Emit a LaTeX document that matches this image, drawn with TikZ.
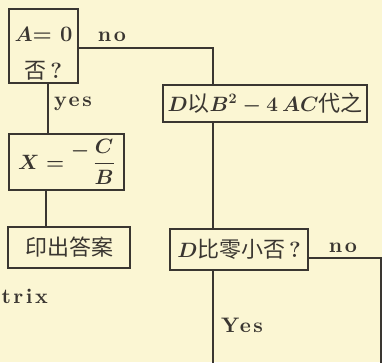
\documentclass[tikz,border=0pt]{standalone}
\usepackage{fontspec}
\usepackage{amsmath}
\newfontfamily\cjk{Noto Sans CJK SC}
\newfontfamily\labfont{lmroman10-bold.otf}[LetterSpace=12]
\usetikzlibrary{calc}
\definecolor{paper}{HTML}{FBF6D3}
\definecolor{ink}{HTML}{3A3631}
\newcommand{\zh}[1]{{\cjk\mdseries #1}}
\begin{document}
\begin{tikzpicture}[x=1pt,y=-1pt,
  box/.style={draw=ink,line width=2.6pt,inner sep=0pt,text=ink,font=\fontsize{22}{26}\selectfont\bfseries\boldmath},
  conn/.style={draw=ink,line width=2.6pt},
  lab/.style={text=ink,font=\fontsize{21}{24}\selectfont\labfont}]
\fill[paper] (0,0) rectangle (382,362);
\useasboundingbox (0,0) rectangle (382,362);
% boxes
\node[box,minimum width=69pt,minimum height=74pt,align=center] (A) at (43.5,46)
  {\rule{0pt}{30pt}$A$= 0\\[11pt]\zh{否}\,?};
\node[box,minimum width=115pt,minimum height=56pt] (X) at (66.5,162)
  {\raisebox{-3pt}{$X=\raisebox{1.3ex}{$-$}\,\dfrac{C}{B}$}};
\node[box,minimum width=122pt,minimum height=41pt] (P) at (69,247.5) {\zh{印出答案}};
\node[box,minimum width=204pt,minimum height=37pt] (D) at (265,103.5)
  {$D$\zh{以}$B^{2}-4\,AC$\zh{代之}};
\node[box,minimum width=138pt,minimum height=41pt] (Q) at (239,249.5)
  {$D$\zh{比零小否}\,?};
% coordinates
\coordinate (c1) at (213,48);
\coordinate (c2) at (381,258);
\coordinate (e1) at (213,363);
\coordinate (e2) at (381,363);
% connectors
\draw[conn] (A.east |- c1) -- (c1) -- (c1 |- D.north);
\draw[conn] ($(A.south)+(4.5,0)$) -- ($(A.south |- X.north)+(4.5,0)$);
\draw[conn] ($(X.south)+(-20.5,0)$) -- ($(X.south |- P.north)+(-20.5,0)$);
\draw[conn] (c1 |- D.south) -- (c1 |- Q.north);
\draw[conn] (c1 |- Q.south) -- (e1);
\draw[conn] (Q.east |- c2) -- (c2) -- (e2);
% labels
\node[lab] (l1) at (112,37) {no};
\node[lab] (l2) at (73,104) {yes};
\node[lab] (l3) at (242,325) {Yes};
\node[lab] (l4) at (343,248) {no};
\node[lab,anchor=west] (l5) at (-2,296) {trix};
\end{tikzpicture}
\end{document}
